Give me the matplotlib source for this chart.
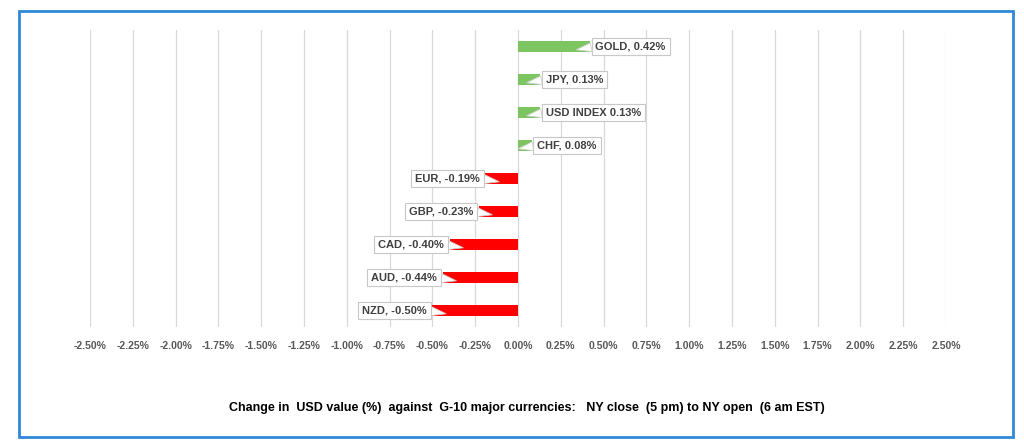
import matplotlib
matplotlib.use("Agg")
import matplotlib.pyplot as plt
import matplotlib.transforms as mtransforms
from matplotlib.patches import Rectangle

# Data (top to bottom as shown)
names = ["GOLD", "JPY", "USD INDEX", "CHF", "EUR", "GBP", "CAD", "AUD", "NZD"]
values = [0.42, 0.13, 0.13, 0.08, -0.19, -0.23, -0.40, -0.44, -0.50]
xticks = [-2.50, -2.25, -2.00, -1.75, -1.50, -1.25, -1.00, -0.75, -0.50, -0.25,
          0.00, 0.25, 0.50, 0.75, 1.00, 1.25, 1.50, 1.75, 2.00, 2.25, 2.50]
title = "Change in  USD value (%)  against  G-10 major currencies:   NY close  (5 pm) to NY open  (6 am EST)"

plt.rcParams['font.family'] = ['Liberation Sans', 'DejaVu Sans']

fig = plt.figure(figsize=(10.24, 4.48), dpi=100)
ax = fig.add_axes([90 / 1024, 1 - 327 / 448, (946 - 90) / 1024, (327 - 30) / 448])

ypos = list(range(len(names)))
colors = ["#7dc561" if v > 0 else "#ff0000" for v in values]
ax.barh(ypos, values, height=0.33, color=colors, zorder=2)

ax.set_xlim(-2.5, 2.5)
ax.set_ylim(len(names) - 0.5, -0.5)
ax.set_xticks(xticks)
ax.set_xticklabels([f"{t:.2f}%" for t in xticks], fontsize=7.5, color="#595959", fontweight="bold")
ax.set_yticks([])
ax.tick_params(axis="x", length=0, pad=10)
ax.grid(True, axis="x", color="#d9d9d9", linewidth=0.9, zorder=0)
for s in ax.spines.values():
    s.set_visible(False)

# callout labels
for i, (n, v) in enumerate(zip(names, values)):
    sep = " " if n == "USD INDEX" else ", "
    label = f"{n}{sep}{v:.2f}%"
    sign = 1 if v > 0 else -1
    tr = mtransforms.offset_copy(ax.transData, fig=fig, x=sign * 4, y=0, units="points")
    ax.annotate(label, xy=(v - sign * 0.08, i + 0.1), xytext=(v, i), textcoords=tr,
                ha="left" if sign > 0 else "right", va="center",
                fontsize=8, fontweight="bold", color="#404040", zorder=4,
                bbox=dict(boxstyle="square,pad=0.35", fc="white", ec="#c8c8c8", lw=0.8),
                arrowprops=dict(arrowstyle="wedge,tail_width=0.8,shrink_factor=0.5",
                                fc="white", ec="#d0d0d0", lw=0.6,
                                relpos=(0, 0.5) if sign > 0 else (1, 0.5),
                                shrinkA=0, shrinkB=0))

fig.text(527 / 1024, 1 - 408 / 448, title, ha="center", va="center",
         fontsize=9, fontweight="bold", color="black")

# outer blue frame
fig.patches.append(Rectangle((19 / 1024, 1 - 437 / 448), (1013 - 19) / 1024, (437 - 11) / 448,
                             transform=fig.transFigure, fill=False, ec="#2f88d8", lw=2))

fig.savefig("out.png", dpi=100)
